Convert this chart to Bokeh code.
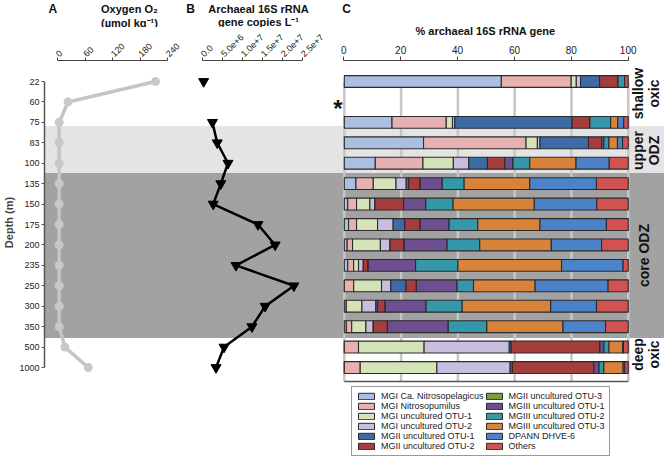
import math
from bokeh.plotting import figure
from bokeh.layouts import row, column
from bokeh.models import (Range1d, LinearAxis, FixedTicker, ColumnDataSource,
                          Legend, LegendItem, Spacer)
from bokeh.core.properties import value
from bokeh.embed import file_html
from bokeh.resources import INLINE

NAN = float("nan")

# ---------------- data ----------------
depths = [22, 60, 75, 83, 100, 135, 150, 175, 200, 235, 250, 300, 350, 500, 1000]
oxygen = [212, 21, 1.5, 1.5, 1.5, 1.5, 1.5, 1.5, 1.5, 1.5, 1.5, 1.5, 1.5, 14, 65]
gene_copies = [0.1e6, NAN, 2.3e6, 3.5e6, 6.2e6, 4.4e6, 2.5e6, 1.37e7, 1.8e7,
               8.2e6, 2.27e7, 1.55e7, 1.22e7, 5.2e6, 3.2e6]

taxa = ["MGI Ca. Nitrosopelagicus", "MGI Nitrosopumilus", "MGI uncultured OTU-1",
        "MGI uncultured OTU-2", "MGII uncultured OTU-1", "MGII uncultured OTU-2",
        "MGII uncultured OTU-3", "MGIII uncultured OTU-1", "MGIII uncultured OTU-2",
        "MGIII uncultured OTU-3", "DPANN DHVE-6", "Others"]
taxa_colors = ["#aabfe1", "#e8b1b1", "#d4e4b8", "#c8bedd", "#3e6ba6", "#a63d3d",
               "#7d9b3b", "#6d4e90", "#3597aa", "#d9833a", "#4c83c8", "#d25252"]

# % of archaeal 16S rRNA gene per depth (None = no data, depth 60 m)
mgi_nitrosopelagicus = [55.3, None, 16.8, 27.9, 10.9, 4.1, 1.2, 1.5, 1.0, 1.2, 0, 0.7, 0.7, 0, 0]
mgi_nitrosopumilus = [24.6, None, 19.1, 36.1, 16.8, 6.1, 3.1, 2.8, 1.9, 2.1, 3.3, 0, 1.9, 5.0, 5.6]
mgi_otu1 = [1.8, None, 2.2, 4.0, 10.7, 8.0, 4.7, 7.4, 9.8, 1.7, 9.8, 5.5, 5.0, 23.1, 27.0]
mgi_otu2 = [1.5, None, 0.8, 0.9, 5.4, 3.6, 1.8, 5.5, 3.4, 1.7, 3.3, 4.9, 2.6, 30.0, 25.8]
mgii_otu1 = [6.7, None, 41.3, 17.1, 6.6, 0.9, 0, 4.1, 0, 0, 5.3, 0.6, 0, 0.7, 0.8]
mgii_otu2 = [6.5, None, 6.3, 4.6, 6.1, 4.0, 10.1, 5.4, 5.0, 1.7, 3.7, 2.7, 5.0, 31.2, 28.7]
mgii_otu3 = [0, None, 0, 0, 0, 0, 0, 0, 0, 0, 0, 0, 0, 0, 0]
mgiii_otu1 = [0, None, 0, 0.8, 2.9, 7.8, 7.8, 10.2, 15.1, 16.7, 14.3, 14.4, 21.4, 1.4, 1.8]
mgiii_otu2 = [2.3, None, 7.3, 1.8, 5.9, 7.7, 9.6, 10.1, 11.5, 14.9, 5.8, 12.7, 13.6, 1.8, 1.7]
mgiii_otu3 = [0, None, 2.5, 3.0, 16.3, 23.1, 28.6, 21.9, 25.2, 36.5, 21.7, 31.2, 26.8, 4.8, 6.8]
dpann_dhve6 = [0, None, 2.1, 1.8, 11.7, 23.5, 22.0, 23.4, 17.7, 21.7, 25.7, 16.1, 15.0, 0.3, 0.6]
others = [1.3, None, 1.6, 2.0, 6.7, 11.2, 11.1, 7.7, 9.4, 1.8, 7.1, 11.2, 8.0, 1.7, 1.2]
composition = [mgi_nitrosopelagicus, mgi_nitrosopumilus, mgi_otu1, mgi_otu2,
               mgii_otu1, mgii_otu2, mgii_otu3, mgiii_otu1, mgiii_otu2,
               mgiii_otu3, dpann_dhve6, others]

oxygen_ticks = [0, 60, 120, 180, 240]
gene_ticks = [0, 5e6, 1e7, 1.5e7, 2e7, 2.5e7]
gene_tick_labels = ["0.0", "5.0e+6", "1.0e+7", "1.5e+7", "2.0e+7", "2.5e+7"]
pct_ticks = [0, 20, 40, 60, 80, 100]
zone_labels = ["shallow\noxic", "upper\nODZ", "core ODZ", "deep\noxic"]

# ---------------- layout / style (window px) ----------------
FONT = "Liberation Sans"
ROW_PX = 20.43
def row_at(py):  # window px -> row index (layout helper only)
    return (py - 81.0) / ROW_PX

FRAME_LEFT, FRAME_RIGHT = 43, 664
FRAME_TOP, FRAME_BOTTOM, PAGE_BOTTOM = 61, 383, 456
A0, A1, B1 = 0, 185, 330
OX0, OX240 = 57.0, 167.0          # oxygen axis pixel span
GC0, GC25 = 202.0, 302.0          # gene-copy axis pixel span
PC0, PC100 = 343.3, 627.7         # percentage axis pixel span
ox_px = (OX240 - OX0) / 240.0
gc_px = (GC25 - GC0) / 2.5e7
pc_px = (PC100 - PC0) / 100.0

band_top = [row_at(125.5), row_at(172.5)]
band_bottom = [row_at(172.5), row_at(337.5)]
band_colors = ["#e4e4e4", "#a2a2a2"]
zone_y = [row_at(93), row_at(150), row_at(255), row_at(354)]
zone_px = [645, 645, 643, 645]

rows = list(range(len(depths)))


def blank(p):
    p.outline_line_color = None
    p.background_fill_color = "white"
    p.border_fill_color = "white"
    for g in p.grid:
        g.visible = False
    return p


def head_fig(x0, x1, h, texts):
    p = blank(figure(width=x1 - x0, height=h, x_range=Range1d(x0, x1),
                     y_range=Range1d(h, 0), output_backend="svg", toolbar_location=None,
                     x_axis_location=None, y_axis_location=None, min_border=0))
    for (tx, ty, t, size) in texts:
        p.text(x=[tx], y=[ty], text=[t], text_font=value(FONT), text_font_size=size,
               text_font_style="bold", text_align="center", text_baseline="middle",
               text_color="#111")
    return p


def axis_fig(x0, x1, h, frame_left, data_x0, px_per_unit, ticks, bounds,
             overrides=None, rotate=True, font_size="9px", tick_out=3, standoff=2):
    xr = Range1d((frame_left - data_x0) / px_per_unit, (x1 - data_x0) / px_per_unit)
    p = blank(figure(width=x1 - x0, height=h, x_range=xr, y_range=Range1d(0, 1),
                     output_backend="svg", toolbar_location=None, x_axis_location=None,
                     y_axis_location=None, min_border_left=frame_left - x0,
                     min_border_right=0, min_border_top=h - 1, min_border_bottom=0))
    ax = LinearAxis(ticker=FixedTicker(ticks=ticks), bounds=bounds)
    ax.minor_tick_line_color = None
    ax.major_tick_in = 0
    ax.major_tick_out = tick_out
    ax.axis_line_color = "#444"
    ax.major_tick_line_color = "#444"
    ax.axis_line_width = 1.2
    ax.major_label_text_font = FONT
    ax.major_label_text_font_size = font_size
    ax.major_label_text_color = "#222"
    ax.major_label_standoff = standoff
    if rotate:
        ax.major_label_orientation = math.pi / 4
    if overrides:
        ax.major_label_overrides = overrides
    p.add_layout(ax, "above")
    return p


# ---------- headers and top axes ----------
HEAD_AB, HEAD_C = 27, 37
hA = head_fig(A0, A1, HEAD_AB, [(12, 8, "A", "12px"), (112, 8, "Oxygen O\u2082", "11px"),
                                (112, 22, "(\u00b5mol kg\u207b\u00b9)", "11px")])
hB = head_fig(A1, B1, HEAD_AB, [(190, 8, "B", "12px"), (258, 8, "Archaeal 16S rRNA", "11px"),
                                (258, 21, "gene copies L\u207b\u00b9", "11px")])
hC = head_fig(B1, FRAME_RIGHT, HEAD_C, [(346, 8, "C", "12px"),
                                        (485, 30, "% archaeal 16S rRNA gene", "11px")])
aA = axis_fig(A0, A1, FRAME_TOP - HEAD_AB, FRAME_LEFT, OX0, ox_px, oxygen_ticks, (0, 240))
aB = axis_fig(A1, B1, FRAME_TOP - HEAD_AB, A1, GC0, gc_px, gene_ticks, (0, 2.5e7),
              overrides=dict(zip(gene_ticks, gene_tick_labels)))
aC = axis_fig(B1, FRAME_RIGHT, FRAME_TOP - HEAD_C, B1, PC0, pc_px, pct_ticks, (0, 100),
              rotate=False, font_size="10px", tick_out=4, standoff=3)

# ---------- main figure (all three panels share one frame) ----------
main = blank(figure(width=FRAME_RIGHT, height=FRAME_BOTTOM - FRAME_TOP,
                    x_range=Range1d((FRAME_LEFT - PC0) / pc_px, (FRAME_RIGHT - PC0) / pc_px),
                    y_range=Range1d(start=row_at(FRAME_BOTTOM), end=row_at(FRAME_TOP)),
                    output_backend="svg", toolbar_location=None, x_axis_location=None,
                    y_axis_location=None, min_border_left=FRAME_LEFT, min_border_right=0,
                    min_border_top=0, min_border_bottom=0))
main.extra_x_ranges = {
    "ox": Range1d((FRAME_LEFT - OX0) / ox_px, (FRAME_RIGHT - OX0) / ox_px),
    "gc": Range1d((FRAME_LEFT - GC0) / gc_px, (FRAME_RIGHT - GC0) / gc_px),
}
xr = main.x_range
span = xr.end - xr.start
main.quad(left=xr.start - 0.05 * span, right=xr.end + 0.05 * span,
          top=band_top, bottom=band_bottom, fill_color=band_colors, line_color=None)

yax = LinearAxis(ticker=FixedTicker(ticks=rows), bounds=(0, len(depths) - 1))
yax.major_label_overrides = {i: str(d) for i, d in zip(rows, depths)}
yax.minor_tick_line_color = None
yax.major_tick_in = 0
yax.major_tick_out = 3
yax.axis_line_color = "#555"
yax.major_tick_line_color = "#555"
yax.axis_line_width = 1.5
yax.major_label_text_font = FONT
yax.major_label_text_font_size = "9px"
yax.major_label_text_color = "#222"
yax.major_label_standoff = 2
yax.axis_label = "Depth (m)"
yax.axis_label_text_font = FONT
yax.axis_label_text_font_size = "11px"
yax.axis_label_text_font_style = "bold"
yax.axis_label_standoff = 1
main.add_layout(yax, "left")

# panel A: oxygen
src_ox = ColumnDataSource(dict(o=oxygen, y=rows))
main.line("o", "y", source=src_ox, x_range_name="ox", line_color="#c5c5c5", line_width=3.5)
main.scatter("o", "y", source=src_ox, x_range_name="ox", size=9, fill_color="#c8c8c8",
             line_color=None)

# panel B: gene copies
src_gc = ColumnDataSource(dict(g=gene_copies, y=rows))
main.line("g", "y", source=src_gc, x_range_name="gc", line_color="black", line_width=2.5)
main.scatter("g", "y", source=src_gc, x_range_name="gc", marker="inverted_triangle",
             size=10, fill_color="black", line_color="black")

# panel C: composition
main.segment(x0=pct_ticks, x1=pct_ticks, y0=[0] * len(pct_ticks),
             y1=[row_at(381)] * len(pct_ticks), line_color="#c6c6c6", line_width=2.5)
main.segment(x0=[pct_ticks[0]], x1=[pct_ticks[-1]], y0=[row_at(381)], y1=[row_at(381)],
             line_color="#555", line_width=1.3)

keys = ["t%d" % i for i in range(len(taxa))]
have = [i for i in rows if composition[0][i] is not None]
cdata = {"y": have}
for k, series in zip(keys, composition):
    cdata[k] = [series[i] for i in have]
src_c = ColumnDataSource(cdata)
main.hbar_stack(keys, y="y", height=0.58, source=src_c, fill_color=taxa_colors,
                line_color="#2b2b2b", line_width=1.1)

missing = [i for i in rows if composition[0][i] is None]
main.text(x=[(337 - PC0) / pc_px] * len(missing), y=missing, text=["*"] * len(missing),
          text_font=value(FONT), text_font_size="24px", text_font_style="bold",
          text_align="center", text_baseline="middle", y_offset=7, text_color="#111")

main.text(x=[(z - PC0) / pc_px for z in zone_px], y=zone_y, text=zone_labels,
          angle=math.pi / 2, text_font=value(FONT), text_font_size="14px",
          text_font_style="bold", text_align="center", text_baseline="middle",
          text_line_height=1.0, text_color="#111")

# ---------- legend strip (under panel C) ----------
pL = blank(figure(width=FRAME_RIGHT - B1, height=PAGE_BOTTOM - FRAME_BOTTOM,
                  x_range=Range1d(0, 1), y_range=Range1d(0, 1), output_backend="svg",
                  toolbar_location=None, x_axis_location=None, y_axis_location=None,
                  min_border=0))
items = []
for t, c in zip(taxa, taxa_colors):
    r = pL.quad(left=[5], right=[6], top=[6], bottom=[5], fill_color=c,
                line_color="#2b2b2b", line_width=1)
    items.append(LegendItem(label=t, renderers=[r]))
legend = Legend(items=items, location=(351 - B1, 0), orientation="vertical", nrows=6,
                label_text_font=FONT, label_text_font_size="9px",
                label_text_color="#222", glyph_width=20, glyph_height=8,
                label_height=9, label_standoff=5, spacing=0, padding=4, margin=0,
                border_line_color="#333", border_line_width=1,
                background_fill_color="white")
pL.add_layout(legend)

layout = column(row(column(hA, aA), column(hB, aB), column(hC, aC)), main,
                row(Spacer(width=B1, height=PAGE_BOTTOM - FRAME_BOTTOM), pL))
open("out.html", "w").write(file_html(layout, INLINE))
